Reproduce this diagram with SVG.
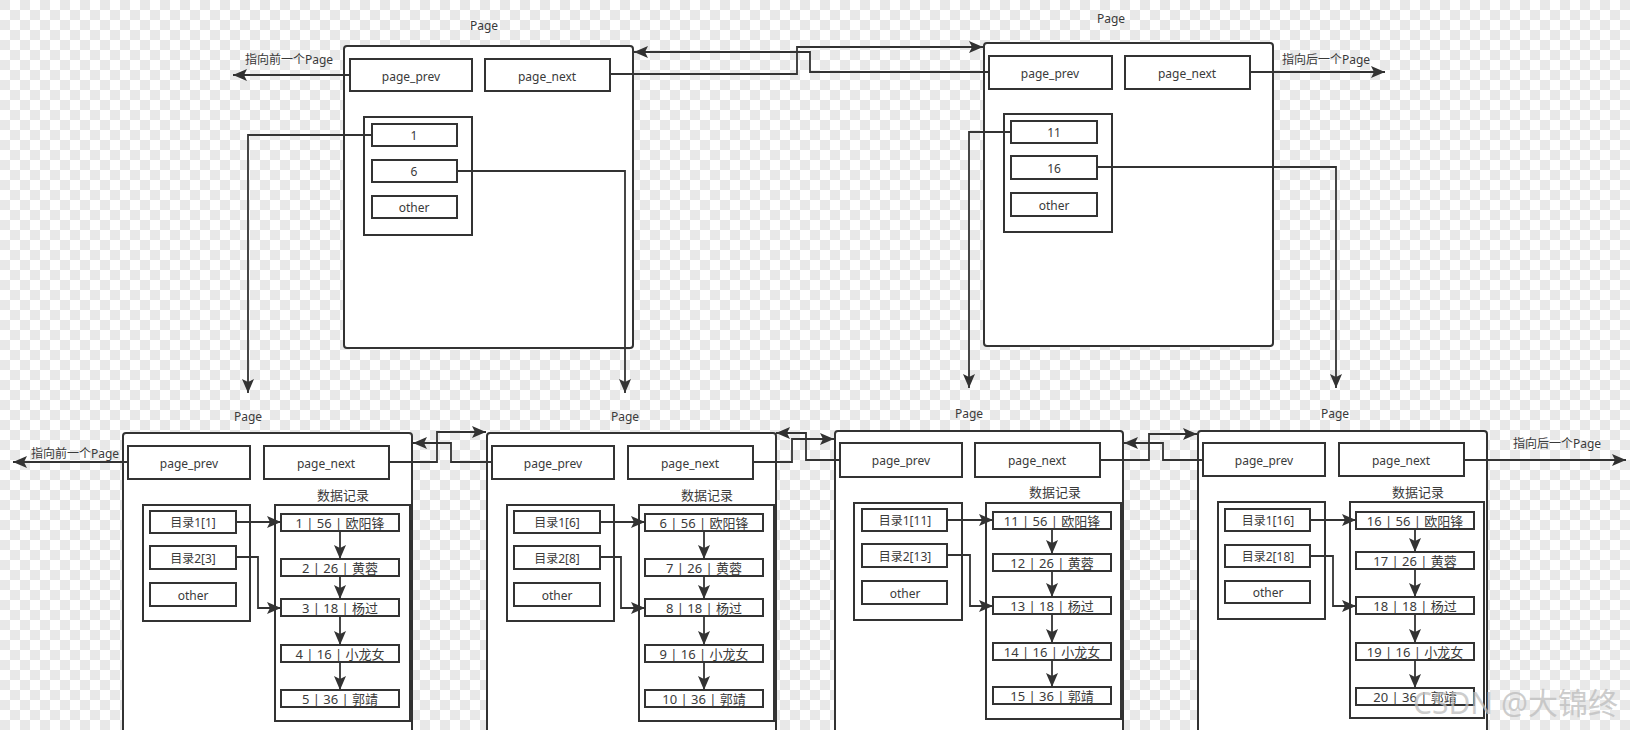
<svg xmlns="http://www.w3.org/2000/svg" width="1630" height="730" viewBox="0 0 1630 730">
<defs>
<pattern id="checker" width="20" height="20" patternUnits="userSpaceOnUse">
<rect width="20" height="20" fill="#ffffff"/>
<rect width="10" height="10" fill="#e8e8e8"/>
<rect x="10" y="10" width="10" height="10" fill="#e8e8e8"/>
</pattern>
<marker id="arr" markerUnits="userSpaceOnUse" markerWidth="16" markerHeight="14" refX="14" refY="6" orient="auto">
<path d="M0,0 L14,6 L0,12 L3,6 Z" fill="#333"/>
</marker>
</defs>
<style>
.bx{fill:#fff;stroke:#333;stroke-width:2}
.pg{fill:#fff;stroke:#333;stroke-width:2}
.t{font-family:"Noto Sans","Noto Sans CJK SC",sans-serif;fill:#3a3a3a;text-anchor:middle;dominant-baseline:central;font-size:12px}
.r{font-size:13px}
.c{fill:none;stroke:#333;stroke-width:1.8;marker-end:url(#arr)}
.wm{font-family:"Noto Sans","Noto Sans CJK SC",sans-serif;font-size:30px;fill:#bdbdbd;fill-opacity:0.75}
</style>
<rect width="1630" height="730" fill="url(#checker)"/>

<g id="top-page-1">
<text class="t" x="484" y="25">Page</text>
<g transform="translate(344,46)">
<rect class="pg" x="0" y="0" width="289" height="302" rx="3"/>
<g id="tp1-prev"><rect class="bx" x="6" y="13" width="122" height="32"/><text class="t" x="67" y="30">page_prev</text></g>
<g id="tp1-next"><rect class="bx" x="141" y="13" width="125" height="32"/><text class="t" x="203" y="30">page_next</text></g>
<g id="tp1-dir">
<rect class="bx" x="20" y="71" width="108" height="118"/>
<g id="tp1-k1"><rect class="bx" x="28" y="78" width="85" height="22"/><text class="t" x="70" y="89">1</text></g>
<g id="tp1-k6"><rect class="bx" x="28" y="114" width="85" height="22"/><text class="t" x="70" y="125">6</text></g>
<g id="tp1-other"><rect class="bx" x="28" y="150" width="85" height="22"/><text class="t" x="70" y="161">other</text></g>
</g>
</g>
</g>

<g id="top-page-2">
<text class="t" x="1111" y="18">Page</text>
<g transform="translate(984,43)">
<rect class="pg" x="0" y="0" width="289" height="303" rx="3"/>
<g id="tp2-prev"><rect class="bx" x="5" y="13" width="123" height="33"/><text class="t" x="66" y="30">page_prev</text></g>
<g id="tp2-next"><rect class="bx" x="141" y="13" width="125" height="33"/><text class="t" x="203" y="30">page_next</text></g>
<g id="tp2-dir">
<rect class="bx" x="20" y="71" width="108" height="118"/>
<g id="tp2-k11"><rect class="bx" x="27" y="78" width="86" height="22"/><text class="t" x="70" y="89">11</text></g>
<g id="tp2-k16"><rect class="bx" x="27" y="113" width="86" height="23"/><text class="t" x="70" y="125">16</text></g>
<g id="tp2-other"><rect class="bx" x="27" y="150" width="86" height="23"/><text class="t" x="70" y="162">other</text></g>
</g>
</g>
</g>

<g id="leaf-page-1">
<text class="t" x="248" y="416">Page</text>
<g transform="translate(123,433)">
<rect class="pg" x="0" y="0" width="289" height="320" rx="3"/>
<g id="lp1-prev"><rect class="bx" x="5" y="13" width="122" height="33"/><text class="t" x="66" y="30">page_prev</text></g>
<g id="lp1-next"><rect class="bx" x="141" y="13" width="125" height="33"/><text class="t" x="203" y="30">page_next</text></g>
<text class="t r" x="220" y="62">数据记录</text>
<g id="lp1-dir">
<rect class="bx" x="20" y="72" width="107" height="116"/>
<g id="lp1-d1"><rect class="bx" x="27" y="78" width="86" height="22"/><text class="t" x="70" y="89">目录1[1]</text></g>
<g id="lp1-d2"><rect class="bx" x="27" y="113" width="86" height="23"/><text class="t" x="70" y="125">目录2[3]</text></g>
<g id="lp1-other"><rect class="bx" x="27" y="150" width="86" height="23"/><text class="t" x="70" y="162">other</text></g>
</g>
<g id="lp1-data">
<rect class="bx" x="152" y="72" width="135" height="216"/>
<g id="lp1-r1"><rect class="bx" x="158" y="81" width="118" height="17"/><text class="t r" x="217" y="90">1 | 56 | 欧阳锋</text></g>
<g id="lp1-r2"><rect class="bx" x="158" y="126" width="118" height="17"/><text class="t r" x="217" y="135">2 | 26 | 黄蓉</text></g>
<g id="lp1-r3"><rect class="bx" x="158" y="166" width="118" height="17"/><text class="t r" x="217" y="175">3 | 18 | 杨过</text></g>
<g id="lp1-r4"><rect class="bx" x="158" y="212" width="118" height="17"/><text class="t r" x="217" y="221">4 | 16 | 小龙女</text></g>
<g id="lp1-r5"><rect class="bx" x="158" y="257" width="118" height="17"/><text class="t r" x="217" y="266">5 | 36 | 郭靖</text></g>
</g>
</g>
</g>

<g id="leaf-page-2">
<text class="t" x="625" y="416">Page</text>
<g transform="translate(487,433)">
<rect class="pg" x="0" y="0" width="289" height="320" rx="3"/>
<g id="lp2-prev"><rect class="bx" x="5" y="13" width="122" height="33"/><text class="t" x="66" y="30">page_prev</text></g>
<g id="lp2-next"><rect class="bx" x="141" y="13" width="125" height="33"/><text class="t" x="203" y="30">page_next</text></g>
<text class="t r" x="220" y="62">数据记录</text>
<g id="lp2-dir">
<rect class="bx" x="20" y="72" width="107" height="116"/>
<g id="lp2-d1"><rect class="bx" x="27" y="78" width="86" height="22"/><text class="t" x="70" y="89">目录1[6]</text></g>
<g id="lp2-d2"><rect class="bx" x="27" y="113" width="86" height="23"/><text class="t" x="70" y="125">目录2[8]</text></g>
<g id="lp2-other"><rect class="bx" x="27" y="150" width="86" height="23"/><text class="t" x="70" y="162">other</text></g>
</g>
<g id="lp2-data">
<rect class="bx" x="152" y="72" width="135" height="216"/>
<g id="lp2-r1"><rect class="bx" x="158" y="81" width="118" height="17"/><text class="t r" x="217" y="90">6 |  56 | 欧阳锋</text></g>
<g id="lp2-r2"><rect class="bx" x="158" y="126" width="118" height="17"/><text class="t r" x="217" y="135">7 |  26 | 黄蓉</text></g>
<g id="lp2-r3"><rect class="bx" x="158" y="166" width="118" height="17"/><text class="t r" x="217" y="175">8 |  18 | 杨过</text></g>
<g id="lp2-r4"><rect class="bx" x="158" y="212" width="118" height="17"/><text class="t r" x="217" y="221">9 |  16 | 小龙女</text></g>
<g id="lp2-r5"><rect class="bx" x="158" y="257" width="118" height="17"/><text class="t r" x="217" y="266">10 |  36 | 郭靖</text></g>
</g>
</g>
</g>

<g id="leaf-page-3">
<text class="t" x="969" y="413">Page</text>
<g transform="translate(835,431)">
<rect class="pg" x="0" y="0" width="288" height="320" rx="3"/>
<g id="lp3-prev"><rect class="bx" x="5" y="12" width="122" height="34"/><text class="t" x="66" y="29">page_prev</text></g>
<g id="lp3-next"><rect class="bx" x="140" y="12" width="125" height="34"/><text class="t" x="202" y="29">page_next</text></g>
<text class="t r" x="220" y="61">数据记录</text>
<g id="lp3-dir">
<rect class="bx" x="19" y="72" width="108" height="117"/>
<g id="lp3-d1"><rect class="bx" x="27" y="78" width="85" height="22"/><text class="t" x="70" y="89">目录1[11]</text></g>
<g id="lp3-d2"><rect class="bx" x="27" y="113" width="85" height="23"/><text class="t" x="70" y="125">目录2[13]</text></g>
<g id="lp3-other"><rect class="bx" x="27" y="150" width="85" height="23"/><text class="t" x="70" y="162">other</text></g>
</g>
<g id="lp3-data">
<rect class="bx" x="151" y="72" width="135" height="216"/>
<g id="lp3-r1"><rect class="bx" x="158" y="81" width="118" height="17"/><text class="t r" x="217" y="90">11 |  56 | 欧阳锋</text></g>
<g id="lp3-r2"><rect class="bx" x="158" y="123" width="118" height="17"/><text class="t r" x="217" y="132">12 |  26 | 黄蓉</text></g>
<g id="lp3-r3"><rect class="bx" x="158" y="166" width="118" height="17"/><text class="t r" x="217" y="175">13 |  18 | 杨过</text></g>
<g id="lp3-r4"><rect class="bx" x="158" y="212" width="118" height="17"/><text class="t r" x="217" y="221">14 |  16 | 小龙女</text></g>
<g id="lp3-r5"><rect class="bx" x="158" y="256" width="118" height="17"/><text class="t r" x="217" y="265">15 |  36 | 郭靖</text></g>
</g>
</g>
</g>

<g id="leaf-page-4">
<text class="t" x="1335" y="413">Page</text>
<g transform="translate(1198,431)">
<rect class="pg" x="0" y="0" width="289" height="320" rx="3"/>
<g id="lp4-prev"><rect class="bx" x="5" y="12" width="122" height="33"/><text class="t" x="66" y="29">page_prev</text></g>
<g id="lp4-next"><rect class="bx" x="141" y="12" width="125" height="33"/><text class="t" x="203" y="29">page_next</text></g>
<text class="t r" x="220" y="61">数据记录</text>
<g id="lp4-dir">
<rect class="bx" x="20" y="71" width="107" height="117"/>
<g id="lp4-d1"><rect class="bx" x="27" y="78" width="85" height="22"/><text class="t" x="70" y="89">目录1[16]</text></g>
<g id="lp4-d2"><rect class="bx" x="27" y="114" width="85" height="22"/><text class="t" x="70" y="125">目录2[18]</text></g>
<g id="lp4-other"><rect class="bx" x="27" y="150" width="85" height="22"/><text class="t" x="70" y="161">other</text></g>
</g>
<g id="lp4-data">
<rect class="bx" x="152" y="71" width="134" height="216"/>
<g id="lp4-r1"><rect class="bx" x="158" y="81" width="118" height="17"/><text class="t r" x="217" y="90">16 |  56 | 欧阳锋</text></g>
<g id="lp4-r2"><rect class="bx" x="158" y="121" width="118" height="17"/><text class="t r" x="217" y="130">17 |  26 | 黄蓉</text></g>
<g id="lp4-r3"><rect class="bx" x="158" y="166" width="118" height="17"/><text class="t r" x="217" y="175">18 |  18 | 杨过</text></g>
<g id="lp4-r4"><rect class="bx" x="158" y="212" width="118" height="17"/><text class="t r" x="217" y="221">19 |  16 | 小龙女</text></g>
<g id="lp4-r5"><rect class="bx" x="158" y="257" width="118" height="17"/><text class="t r" x="217" y="266">20 |  36 | 郭靖</text></g>
</g>
</g>
</g>

<g id="connectors">
<text class="t" x="289" y="59">指向前一个Page</text>
<text class="t" x="1326" y="59">指向后一个Page</text>
<text class="t" x="75" y="453">指向前一个Page</text>
<text class="t" x="1557" y="443">指向后一个Page</text>
<path class="c" d="M350,75 H233"/>
<path class="c" d="M1250,72 H1385"/>
<path class="c" d="M989,72 H810 V52 H634"/>
<path class="c" d="M610,74 H797 V47 H983"/>
<path class="c" d="M372,135 H248 V393"/>
<path class="c" d="M457,171 H625 V393"/>
<path class="c" d="M1011,132 H969 V388"/>
<path class="c" d="M1097,167 H1336 V388"/>
<path class="c" d="M128,462 H13"/>
<path class="c" d="M389,462 H437 V432 H486"/>
<path class="c" d="M492,462 H451 V443 H413"/>
<path class="c" d="M752,462 H792 V439 H834"/>
<path class="c" d="M840,460 H806 V433 H776"/>
<path class="c" d="M1100,460 H1149 V434 H1197"/>
<path class="c" d="M1203,460 H1163 V443 H1124"/>
<path class="c" d="M1464,460 H1626"/>
<path class="c" d="M236,522 H281"/>
<path class="c" d="M236,557 H258 V608 H281"/>
<path class="c" d="M340,531 V559"/>
<path class="c" d="M340,576 V599"/>
<path class="c" d="M340,616 V645"/>
<path class="c" d="M340,662 V690"/>
<path class="c" d="M600,522 H645"/>
<path class="c" d="M600,557 H621 V608 H645"/>
<path class="c" d="M704,531 V559"/>
<path class="c" d="M704,576 V599"/>
<path class="c" d="M704,616 V645"/>
<path class="c" d="M704,662 V690"/>
<path class="c" d="M947,520 H993"/>
<path class="c" d="M947,555 H970 V606 H993"/>
<path class="c" d="M1052,529 V554"/>
<path class="c" d="M1052,571 V597"/>
<path class="c" d="M1052,614 V643"/>
<path class="c" d="M1052,660 V687"/>
<path class="c" d="M1310,520 H1356"/>
<path class="c" d="M1310,556 H1333 V606 H1356"/>
<path class="c" d="M1415,529 V552"/>
<path class="c" d="M1415,569 V597"/>
<path class="c" d="M1415,614 V643"/>
<path class="c" d="M1415,660 V688"/>
</g>

<text class="wm" x="1413" y="714">CSDN @大锦终</text>
</svg>
